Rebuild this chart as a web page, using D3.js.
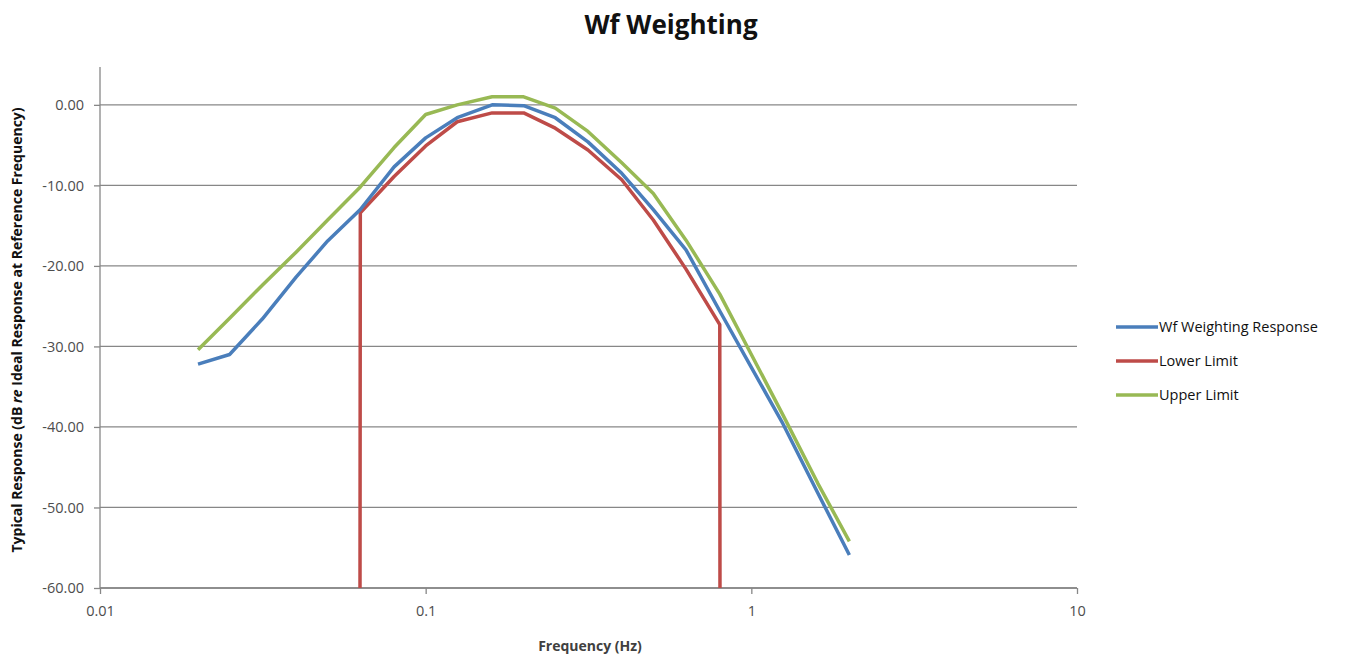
<!DOCTYPE html>
<html><head><meta charset="utf-8">
<script src="https://cdn.jsdelivr.net/npm/d3@7"></script>
<style>
body{margin:0;background:#fff;}
svg{display:block;font-family:"Open Sans","Liberation Sans",sans-serif;}
</style></head>
<body><svg id="c" width="1365" height="662"></svg>
<script>
// Data
const freqs = [0.02,0.025,0.0315,0.04,0.05,0.063,0.08,0.1,0.125,0.16,0.2,0.25,0.315,0.4,0.5,0.63,0.8,1.0,1.25,1.6,2.0];
const response = [-32.2,-31.0,-26.6,-21.4,-16.9,-13.0,-7.7,-4.1,-1.6,0.0,-0.1,-1.6,-4.6,-8.5,-13.0,-18.0,-25.6,-32.6,-39.6,-48.2,-55.9];
const upper = [-30.4,-26.5,-22.4,-18.3,-14.3,-10.2,-5.3,-1.2,0.0,1.0,1.0,-0.4,-3.3,-7.2,-11.0,-16.8,-23.5,-31.0,-38.5,-47.0,-54.2];
const lowerFreqs = [0.05,0.063,0.08,0.1,0.125,0.16,0.2,0.25,0.315,0.4,0.5,0.63,0.8,1.0];
const lower = [-5000,-13.4,-8.9,-5.1,-2.1,-1.0,-1.0,-2.9,-5.6,-9.3,-14.3,-20.4,-27.3,-5000];
const xTicks = [0.01,0.1,1,10];
const yTicks = [0,-10,-20,-30,-40,-50,-60];
const seriesNames = ["Wf Weighting Response","Lower Limit","Upper Limit"];
const colors = ["#4a7ebb","#be4b48","#98b954"];

const svg = d3.select("#c");
const L=100,R=1077,T=67,B=588;
const x = d3.scaleLog().domain([0.01,10]).range([L,R]);
const y = d3.scaleLinear().domain([-60,4.7]).range([B,T]);

svg.append("defs").append("clipPath").attr("id","clip")
  .append("rect").attr("x",L).attr("y",T-10).attr("width",R-L).attr("height",B-T+10);

// gridlines
svg.append("g").selectAll("line").data(yTicks).join("line")
  .attr("x1",L).attr("x2",R).attr("y1",d=>y(d)).attr("y2",d=>y(d))
  .attr("stroke","#878787").attr("stroke-width",1.3);

// axes
const ya = svg.append("g").attr("transform",`translate(${L},0)`)
  .call(d3.axisLeft(y).tickValues(yTicks).tickFormat(d=>d.toFixed(2)).tickSize(6).tickPadding(10));
const xa = svg.append("g").attr("transform",`translate(0,${B})`)
  .call(d3.axisBottom(x).tickValues(xTicks).tickFormat(d=>String(d)).tickSize(6).tickPadding(12));
[ya,xa].forEach(a=>{
  a.select(".domain").attr("stroke","#878787").attr("stroke-width",1.3);
  a.selectAll(".tick line").attr("stroke","#878787").attr("stroke-width",1.3);
  a.selectAll("text").attr("fill","#4d4d4d").style("font-size","14.5px").style("font-family","'Open Sans',sans-serif");
});
xa.select(".domain").attr("d",`M${L},0H${R}`);
ya.select(".domain").attr("d",`M0,${T}V${B}`);

const line = d3.line().x(d=>x(d[0])).y(d=>y(d[1]));
const g = svg.append("g").attr("clip-path","url(#clip)");
const sets = [
  d3.zip(freqs,response),
  d3.zip(lowerFreqs,lower),
  d3.zip(freqs,upper)
];
[2,1,0].forEach(i=>{
  g.append("path").datum(sets[i]).attr("d",line).attr("fill","none")
   .attr("stroke",colors[i]).attr("stroke-width",3.5).attr("stroke-linejoin","round");
});

// title
svg.append("text").attr("x",671).attr("y",34).attr("text-anchor","middle")
  .style("font-size","26px").style("font-weight","bold").attr("fill","#111").text("Wf Weighting");

// x label
svg.append("text").attr("x",590).attr("y",651).attr("text-anchor","middle")
  .style("font-size","14px").style("font-weight","bold").attr("fill","#404040").text("Frequency (Hz)");

// y label
const yl = svg.append("text").attr("transform","translate(22,330) rotate(-90)").attr("text-anchor","middle")
  .style("font-size","14px").style("font-weight","bold").attr("fill","#111");
yl.append("tspan").text("Typical Response (dB ");
yl.append("tspan").style("font-style","italic").text("re");
yl.append("tspan").text(" Ideal Response at Reference Frequency)");

// legend
const lg = svg.append("g").attr("transform","translate(1116,327)");
seriesNames.forEach((n,i)=>{
  const gi = lg.append("g").attr("transform",`translate(0,${i*34})`);
  gi.append("line").attr("x1",0).attr("x2",42).attr("stroke",colors[i]).attr("stroke-width",3.5);
  gi.append("text").attr("x",43).attr("y",5).style("font-size","14.5px").attr("fill","#111").text(n);
});
</script></body></html>
